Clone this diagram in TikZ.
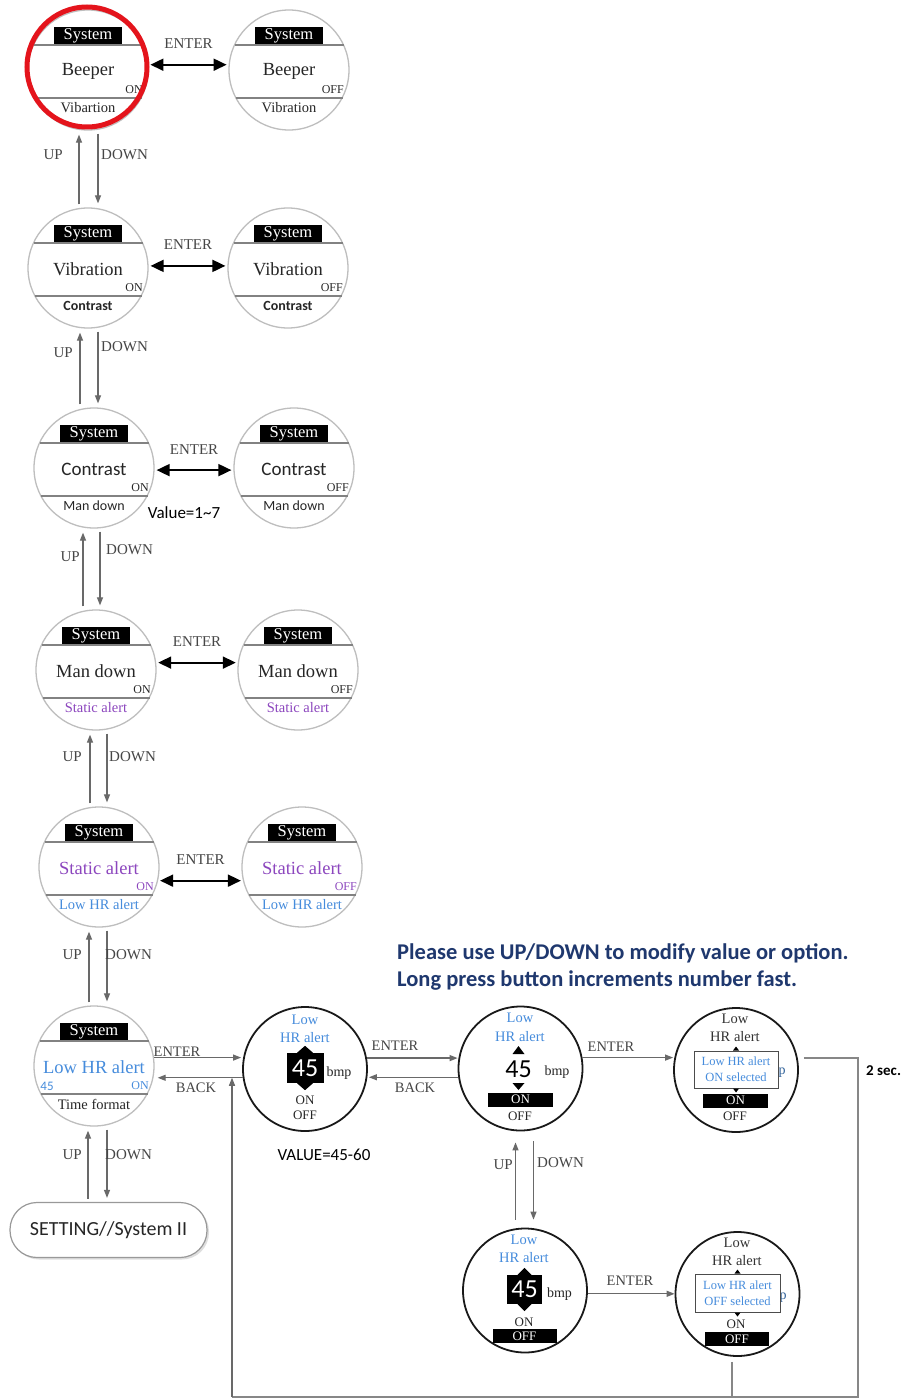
\documentclass[tikz,border=0pt]{standalone}
\usepackage{fontspec}
\setmainfont{Liberation Serif}
\newfontfamily\calib{Carlito}
\usetikzlibrary{calc,arrows.meta,shadows}
\definecolor{purp}{RGB}{140,70,190}
\definecolor{hrblue}{RGB}{70,140,220}
\definecolor{navy}{RGB}{31,56,110}
\definecolor{lblgray}{RGB}{70,70,70}
\definecolor{cgray}{RGB}{190,190,190}
\definecolor{sgray}{RGB}{130,130,130}
\definecolor{agray}{RGB}{105,105,105}
\definecolor{alarm}{RGB}{228,20,28}
\newcommand\fs[1]{\fontsize{#1}{#1}\selectfont}

\tikzset{
 scrn/.style={circle, draw=cgray, line width=1.3pt, minimum size=120pt, inner sep=0pt},
 dscreen/.style={circle, draw=black!90, line width=1.8pt, minimum size=124pt, inner sep=0pt},
 sepline/.style={draw=sgray, line width=1.4pt},
 sysbox/.style={fill=black, text=white, minimum width=68pt, minimum height=17pt, inner sep=0pt, font=\fs{16.5}},
 maintxt/.style={inner sep=0pt, font=\fs{18.5}, text=black!85},
 stat/.style={inner sep=0pt, font=\fs{12}, anchor=east, text=black!85},
 bottxt/.style={inner sep=0pt, font=\fs{14.5}, text=black!85},
 lbl/.style={inner sep=0pt, font=\fs{15}, text=lblgray},
 enterar/.style={<->, >={Triangle[length=13pt,width=12pt]}, line width=1.8pt, draw=black, shorten <=2pt, shorten >=2pt},
 updn/.style={->, >={Triangle[length=8pt,width=6pt]}, draw=agray, line width=1.2pt, shorten <=3pt, shorten >=4pt},
 flow/.style={->, >={Triangle[length=8pt,width=6pt]}, draw=agray, line width=1.2pt},
 wire/.style={draw=agray!80, line width=1.4pt},
 vtxt/.style={inner sep=0pt, font=\fs{14.5}, text=hrblue},
 ktxt/.style={inner sep=0pt, font=\fs{14.5}, text=black!80},
 onoff/.style={inner sep=0pt, font=\fs{13}, text=black!85},
 unittxt/.style={inner sep=0pt, font=\fs{14}, text=black!85},
 numbox/.style={fill=black, text=white, inner sep=0pt, font=\calib\fs{26}},
 onbar/.style={fill=black, text=white, inner sep=0pt, minimum width=65pt, minimum height=14pt, font=\fs{13}},
 selbox/.style={draw=black!70, fill=white, line width=1pt, text=hrblue, align=center, inner sep=0pt, minimum width=84pt, minimum height=37pt, font=\fontsize{12.5}{16}\selectfont},
 notetxt/.style={inner sep=0pt, font=\calib\fs{17}, text=black},
 setbox/.style={draw=gray!80, fill=white, line width=1.2pt, rounded corners=27pt, minimum width=197pt, minimum height=55pt, inner sep=0pt, font=\calib\fs{20}, text=black!85, drop shadow={shadow xshift=2pt, shadow yshift=-2pt, fill=gray!50}},
}

\newcommand\mkscreen[5]{%
 \node[scrn] (#1) at (#2) {};
 \draw[sepline] ($(#1.center)+(-54.5,-25)$) -- ($(#1.center)+(54.5,-25)$);
 \draw[sepline] ($(#1.center)+(-53.5,28)$) -- ($(#1.center)+(53.5,28)$);
 \node[sysbox] (#1-sys) at ($(#1.center)+(0,-34.5)$) {System};
 \node[maintxt] (#1-main) at ($(#1.center)+(0,1)$) {#3};
 \node[stat] (#1-st) at ($(#1.center)+(55,20)$) {#4};
 \node[bottxt] (#1-bot) at ($(#1.center)+(0,38)$) {#5};
}
\newcommand\mkupdown[6]{%
 \coordinate (#1-u) at ($(#1.center)+(#3,0)$);
 \coordinate (#1-d) at ($(#1.center)+(#4,0)$);
 \draw[updn] (#1-u |- #2.north) -- (#1-u |- #1.south);
 \draw[updn] (#1-d |- #1.south) -- (#1-d |- #2.north);
 \node[lbl, anchor=east] (#1-uplbl) at (#5) {UP};
 \node[lbl, anchor=west] (#1-dnlbl) at (#6) {DOWN};
}

\begin{document}
\begin{tikzpicture}[x=1pt,y=-1pt]
\useasboundingbox (0,0) rectangle (910,1399);
\fill[white] (0,0) rectangle (910,1399);

% left column and toggled screens
\mkscreen{c1}{88,70}{Beeper}{ON}{Vibartion}
\mkscreen{c1r}{289,70}{Beeper}{OFF}{Vibration}
\draw[draw=alarm, line width=5pt] (87,67) circle[radius=60pt];
\mkscreen{c2}{88,268}{Vibration}{ON}{{\calib\bfseries\fs{14}Contrast}}
\mkscreen{c2r}{288,268}{Vibration}{OFF}{{\calib\bfseries\fs{14}Contrast}}
\mkscreen{c3}{94,468}{{\calib\fs{19}Contrast}}{ON}{{\calib\fs{14}Man down}}
\mkscreen{c3r}{294,468}{{\calib\fs{19}Contrast}}{OFF}{{\calib\fs{14}Man down}}
\mkscreen{c4}{96,670}{Man down}{ON}{\color{purp}Static alert}
\mkscreen{c4r}{298,670}{Man down}{OFF}{\color{purp}Static alert}
\mkscreen{c5}{99,867}{\color{purp}Static alert}{\color{purp}ON}{\color{hrblue}Low HR alert}
\mkscreen{c5r}{302,867}{\color{purp}Static alert}{\color{purp}OFF}{\color{hrblue}Low HR alert}
\mkscreen{c6}{94,1066}{\color{hrblue}Low HR alert}{\color{hrblue}ON}{Time format}
\node[inner sep=0pt, font=\calib\fs{13}, text=hrblue] (c6-val) at (47,1086) {45};

\node[setbox] (set) at (108.5,1230) {SETTING//System II};

% ENTER toggles
\draw[enterar] (c1.5) -- node[lbl, above=15pt] (e1) {ENTER} (c1r.175);
\draw[enterar] (c2.2) -- node[lbl, above=15pt] (e2) {ENTER} (c2r.178);
\draw[enterar] (c3.-2) -- node[lbl, above=15pt] (e3) {ENTER} (c3r.182);
\draw[enterar] (c4.7) -- node[lbl, above=15pt] (e4) {ENTER} (c4r.173);
\draw[enterar] (c5.-13) -- node[lbl, above=15pt] (e5) {ENTER} (c5r.193);
\node[notetxt] (val17) at (184,513) {Value=1\textasciitilde7};

% UP / DOWN
\mkupdown{c1}{c2}{-9}{10}{63,155}{101,155}
\mkupdown{c2}{c3}{-8}{10}{73,353}{101,347}
\mkupdown{c3}{c4}{-11}{6}{80,557}{106,550}
\mkupdown{c4}{c5}{-6}{11}{82,757}{109,757}
\mkupdown{c5}{c6}{-10}{8}{82,955}{105,955}
\mkupdown{c6}{set}{-6}{13}{82,1155}{105,1155}

% instructions
\node[anchor=base west, inner sep=0pt, font=\calib\bfseries\fs{22.5}, text=navy] (pl1) at (397,959.5) {Please use UP/DOWN to modify value or option.};
\node[anchor=base west, inner sep=0pt, font=\calib\bfseries\fs{22.5}, text=navy] (pl2) at (397,986.5) {Long press button increments number fast.};

% value screen 1
\node[dscreen] (v1) at (305,1069) {};
\node[vtxt] (v1-a) at (305,1020) {Low};
\node[vtxt] (v1-b) at (305,1038) {HR alert};
\node[numbox, minimum width=37pt, minimum height=30pt] (v1-n) at (305,1068) {45};
\fill ($(v1-n.north)+(-8,0)$) -- ++(16,0) -- ++(-8,-7) -- cycle;
\fill ($(v1-n.south)+(-8,0)$) -- ++(16,0) -- ++(-8,7) -- cycle;
\node[unittxt] (v1-u) at (339,1073) {bmp};
\node[onoff] (v1-on) at (305,1100) {ON};
\node[onoff] (v1-off) at (305,1115) {OFF};
\node[notetxt] (val45) at (324,1155) {VALUE=45-60};

% value screen 2
\node[dscreen] (v2) at (520.5,1068.5) {};
\node[vtxt] (v2-a) at (520,1018) {Low};
\node[vtxt] (v2-b) at (520,1037) {HR alert};
\node[inner sep=0pt, font=\calib\fs{26}, text=black] (v2-n) at (518.5,1069) {45};
\fill (512.5,1054) -- (524.5,1054) -- (518.5,1046) -- cycle;
\fill (512.5,1083) -- (524.5,1083) -- (518.5,1090) -- cycle;
\node[unittxt] (v2-u) at (557,1072) {bmp};
\node[onbar] (v2-on) at (520.5,1099.5) {ON};
\node[onoff] (v2-off) at (520,1116) {OFF};

% confirm screen 1
\node[dscreen] (k1) at (736,1070) {};
\node[ktxt] (k1-a) at (735,1019) {Low};
\node[ktxt] (k1-b) at (735,1037) {HR alert};
\node[unittxt, text=hrblue!70!black] (k1-p) at (782,1073) {p};
\node[selbox] (k1-box) at (736,1069.5) {Low HR alert\\ON selected};
\fill ($(k1-box.north)+(-3,0)$) -- ++(6,0) -- ++(-3,-4) -- cycle;
\fill ($(k1-box.south)+(-3,0)$) -- ++(6,0) -- ++(-3,4) -- cycle;
\node[onbar] (k1-on) at (735.5,1100.5) {ON};
\node[onoff] (k1-off) at (735,1116) {OFF};

% value screen 3
\node[dscreen] (v3) at (525,1290.5) {};
\node[vtxt] (v3-a) at (524,1240) {Low};
\node[vtxt] (v3-b) at (524,1258) {HR alert};
\node[numbox, minimum width=35pt, minimum height=29pt] (v3-n) at (524.5,1289.5) {45};
\fill ($(v3-n.north)+(-7,0)$) -- ++(14,0) -- ++(-7,-7) -- cycle;
\fill ($(v3-n.south)+(-7,0)$) -- ++(14,0) -- ++(-7,7) -- cycle;
\node[unittxt] (v3-u) at (559.5,1294) {bmp};
\node[onoff] (v3-on) at (524,1322) {ON};
\node[onbar, minimum width=64pt] (v3-off) at (524.5,1336) {OFF};

% confirm screen 2
\node[dscreen] (k2) at (737.5,1294) {};
\node[ktxt] (k2-a) at (737,1243) {Low};
\node[ktxt] (k2-b) at (737,1261) {HR alert};
\node[unittxt, text=hrblue!70!black] (k2-p) at (783,1298) {p};
\node[selbox, minimum width=85pt, minimum height=38pt] (k2-box) at (737.5,1293) {Low HR alert\\OFF selected};
\fill ($(k2-box.north)+(-3,0)$) -- ++(6,0) -- ++(-3,-4) -- cycle;
\fill ($(k2-box.south)+(-3,0)$) -- ++(6,0) -- ++(-3,4) -- cycle;
\node[onoff] (k2-on) at (736,1324) {ON};
\node[onbar, minimum width=64pt] (k2-off) at (737,1339) {OFF};

% flows
\draw[flow, shorten >=1pt] (c6.8) -- (c6.8 -| v1.west);
\draw[flow, shorten >=3pt] (v1.188) -- (v1.188 -| c6.east);
\node[lbl, font=\fs{14.5}] (en1) at (177,1052) {ENTER};
\node[lbl, font=\fs{14.5}] (bk1) at (196,1088) {BACK};
\draw[flow] (v1.10) -- (v1.10 -| v2.west);
\draw[flow, shorten >=1pt] (v2.188) -- (v2.188 -| v1.east);
\node[lbl, font=\fs{14.5}] (en2) at (395,1046) {ENTER};
\node[lbl, font=\fs{14.5}] (bk2) at (415,1088) {BACK};
\draw[flow] (v2.10) -- (v2.10 -| k1.west);
\node[lbl, font=\fs{14.5}] (en3) at (611,1047) {ENTER};

\coordinate (v2-up) at ($(v2.center)+(-5,0)$);
\coordinate (v2-dn) at ($(v2.center)+(13,0)$);
\draw[flow, shorten <=8pt, shorten >=11pt] (v2-up |- v3.north) -- (v2-up |- v2.south);
\draw[flow, shorten <=10pt, shorten >=8pt] (v2-dn |- v2.south) -- (v2-dn |- v3.north);
\node[lbl, anchor=east] (up7) at (513,1165) {UP};
\node[lbl, anchor=west] (dn7) at (537,1163) {DOWN};

\draw[flow] (v3.-3) -- (v3.-3 -| k2.west);
\node[lbl, font=\fs{14.5}] (en4) at (630,1281) {ENTER};

\coordinate (br) at (858,1397);
\coordinate (bl) at (232,1397);
\draw[wire] ($(k1.east)+(5,-12)$) -| (br) -- (bl);
\draw[flow] (bl) -- (bl |- v1.188);
\coordinate (k2b) at ($(k2.south)+(-5.5,5)$);
\draw[wire] (k2b) -- (k2b |- bl);
\node[anchor=west, inner sep=0pt, font=\calib\bfseries\fs{15}] (twosec) at (866,1071) {2 sec.};
\end{tikzpicture}
\end{document}
